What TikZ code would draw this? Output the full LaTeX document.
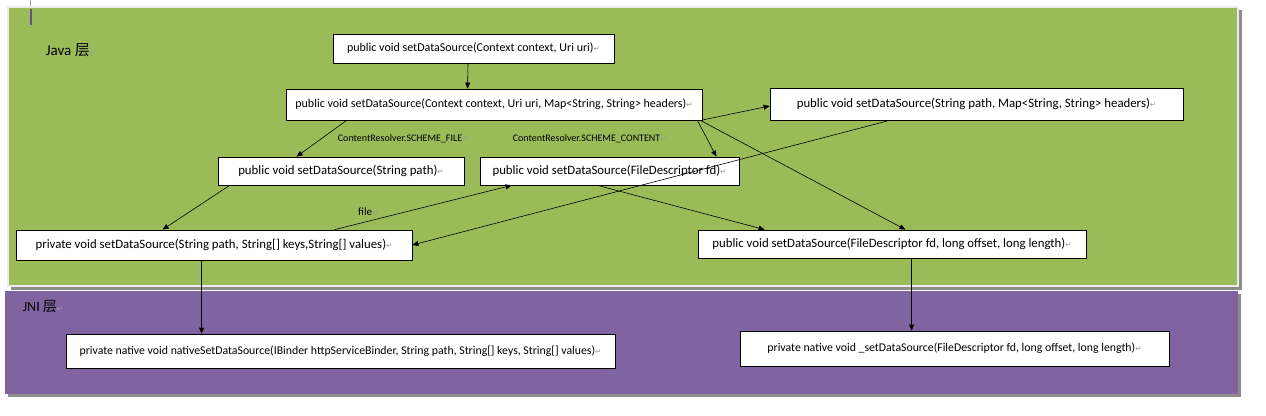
\documentclass[tikz,border=0pt]{standalone}
\usepackage{fontspec}
\setmainfont{Carlito}
\newfontfamily\cjk{Noto Sans CJK SC}
\newfontfamily\symfont{DejaVu Sans}
\usetikzlibrary{arrows.meta}
\definecolor{javagreen}{RGB}{155,187,89}
\definecolor{jnipurple}{RGB}{128,100,162}
\newcommand{\pmark}{{\symfont\color{black!40}\fontsize{7.5}{7.5}\selectfont ↵}}

\begin{document}
\begin{tikzpicture}[x=1pt,y=-1pt]
    \tikzstyle{every node}+=[font=\fontsize{12.8}{14}\selectfont]
    \tikzstyle{fn}=[draw=black, fill=white, line width=0.8pt, inner sep=0pt]
    \tikzstyle{jni}=[fn, font=\fontsize{11.8}{13}\selectfont]
    \tikzstyle{arr}=[-{Triangle[length=6pt,width=5pt]}, line width=0.6pt]
    \tikzstyle{tag}=[font=\fontsize{10}{11}\selectfont, inner sep=0pt]
    \useasboundingbox (0,0) rectangle (1266,415);
    \fill [white] (0,0) rectangle (1266,415);
    % layers
    \fill [black!45] (11,10) rectangle (1242,290);
    \filldraw [draw=black!8, line width=1.5pt, fill=javagreen] (8,7) rectangle (1238,286);
    \fill [black!45] (8,294) rectangle (1241,397);
    \fill [jnipurple] (5,291) rectangle (1238,394);
    \draw [black!35, line width=0.6pt] (30,0) -- (30,6);
    \draw [jnipurple!80!black, line width=1.5pt] (31,9) -- (31,25);
    \node [font=\fontsize{15}{17}\selectfont] (java) at (71,50) {Java {\cjk 层}\pmark};
    \node [font=\fontsize{14}{16}\selectfont] (jni) at (43,307) {JNI {\cjk 层}\pmark};
    % java layer
    \node [fn, font=\fontsize{12}{14}\selectfont, minimum width=281, minimum height=29] (b1) at (473.5,48.5) {public void setDataSource(Context context, Uri uri)\pmark};
    \node [fn, font=\fontsize{12}{14}\selectfont, minimum width=416, minimum height=31] (b2) at (494,104.5) {public void setDataSource(Context context, Uri uri, Map<String, String> headers)\pmark};
    \node [fn, minimum width=413, minimum height=32] (b3) at (976.5,104) {public void setDataSource(String path, Map<String, String> headers)\pmark};
    \node [fn, minimum width=246, minimum height=28] (b4) at (341,171) {public void setDataSource(String path)\pmark};
    \node [fn, minimum width=259, minimum height=28] (b5) at (609.5,171) {public void setDataSource(FileDescriptor fd)\pmark};
    \node [fn, minimum width=396, minimum height=30] (b6) at (214,245) {private void setDataSource(String path, String[] keys,String[] values)\pmark};
    \node [fn, minimum width=388, minimum height=28] (b7) at (892,244) {public void setDataSource(FileDescriptor fd, long offset, long length)\pmark};
    % jni layer
    \node [jni, minimum width=549, minimum height=34] (b8) at (340.5,351) {private native void nativeSetDataSource(IBinder httpServiceBinder, String path, String[] keys, String[] values)\pmark};
    \node [jni, minimum width=429, minimum height=35] (b9) at (954.5,348.5) {private native void \_setDataSource(FileDescriptor fd, long offset, long length)\pmark};
    % calls
    \draw [arr] ([xshift=-5.5pt]b1.south) -- ([xshift=182pt]b2.north west);
    \draw [arr] ([xshift=61pt]b2.south west) -- node [tag, right=16pt] {ContentResolver.SCHEME\_FILE\pmark} ([xshift=79pt]b4.north west);
    \draw [arr] ([xshift=-5pt]b2.south east) -- node [tag, left=40pt] {ContentResolver.SCHEME\_CONTENT\pmark} ([xshift=-23pt]b5.north east);
    \draw [arr] ([xshift=-2pt]b2.south east) -- ([yshift=-2pt]b3.west);
    \draw [arr] ([xshift=-2pt]b2.south east) -- ([xshift=-181pt]b7.north east);
    \draw [arr] ([xshift=118pt]b5.south west) -- ([xshift=67pt]b7.north west);
    \draw [arr] ([xshift=120pt]b3.south west) -- (b6.east);
    \draw [arr] ([xshift=12pt]b4.south west) -- ([xshift=147pt]b6.north west);
    \draw [arr] ([xshift=319pt]b6.north west) -- node [pos=0.19, above=5pt, font=\fontsize{11}{12}\selectfont, inner sep=0pt] {file\pmark} ([xshift=32pt]b5.south west);
    \draw [arr] ([xshift=186pt]b6.south west) -- ([xshift=136pt]b8.north west);
    \draw [arr] ([xshift=214pt]b7.south west) -- ([xshift=172pt]b9.north west);
\end{tikzpicture}
\end{document}
